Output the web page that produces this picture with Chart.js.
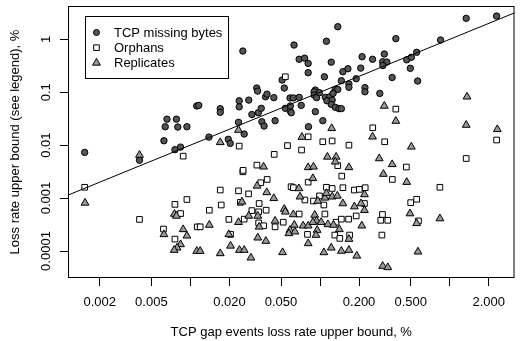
<!DOCTYPE html>
<html>
<head>
<meta charset="utf-8">
<script src="https://cdn.jsdelivr.net/npm/chart.js@4.4.1/dist/chart.umd.min.js"></script>
<style>
  html, body { margin: 0; padding: 0; background: #fff; }
  #wrap { width: 520px; height: 341px; }
</style>
</head>
<body>
<div id="wrap"><canvas id="myChart" width="520" height="341"></canvas></div>
<script>
// [gap events loss rate %, loss rate upper bound %]
const tcpMissingBytes = [
  [0.00153, 0.0073], [0.00405, 0.0052], [0.00625, 0.0121], [0.0076, 0.0082], [0.0084, 0.0092],
  [0.0064, 0.0223], [0.0066, 0.031], [0.0078, 0.031], [0.008, 0.022], [0.0094, 0.0223],
  [0.0112, 0.055], [0.0116, 0.0565], [0.0139, 0.0142], [0.017, 0.0488], [0.017, 0.0417],
  [0.0196, 0.0129], [0.0203, 0.0108], [0.0235, 0.027], [0.0238, 0.069], [0.0238, 0.053],
  [0.026, 0.0162], [0.0254, 0.60], [0.0282, 0.071], [0.0298, 0.038], [0.0325, 0.12],
  [0.033, 0.105], [0.0334, 0.041], [0.0352, 0.0497], [0.0356, 0.0277], [0.037, 0.023],
  [0.045, 0.029], [0.038, 0.082], [0.039, 0.092], [0.044, 0.079], [0.051, 0.17],
  [0.053, 0.12], [0.0587, 0.078], [0.0622, 0.078], [0.069, 0.080], [0.054, 0.0497],
  [0.0587, 0.0447], [0.060, 0.041], [0.059, 0.055], [0.0716, 0.0565], [0.063, 0.78],
  [0.069, 0.42], [0.076, 0.44], [0.081, 0.35], [0.081, 0.234], [0.092, 0.11],
  [0.09, 0.102], [0.09, 0.0885], [0.094, 0.079], [0.099, 0.098], [0.092, 0.043],
  [0.0814, 0.0223], [0.105, 0.029], [0.108, 0.196], [0.112, 0.92], [0.11, 0.08],
  [0.119, 0.082], [0.113, 0.069], [0.124, 0.071], [0.122, 0.059], [0.131, 0.052],
  [0.14, 0.049], [0.146, 0.049], [0.131, 0.113], [0.137, 0.113], [0.126, 0.095],
  [0.122, 0.37], [0.137, 1.73], [0.15, 0.244], [0.164, 0.278], [0.146, 0.165],
  [0.167, 0.143], [0.167, 0.124], [0.19, 0.18], [0.206, 0.286], [0.211, 0.469],
  [0.222, 0.122], [0.222, 0.102], [0.254, 0.42], [0.289, 0.095], [0.304, 0.377],
  [0.313, 0.527], [0.327, 0.372], [0.305, 0.32], [0.36, 0.19], [0.384, 1.03],
  [0.466, 0.41], [0.506, 0.457], [0.556, 0.568], [0.497, 0.283], [0.566, 0.163],
  [0.85, 0.97], [1.34, 2.49], [2.3, 2.75]
];

const orphans = [
  [0.0088, 0.0062], [0.0238, 0.0096], [0.00153, 0.0016], [0.00405, 0.000395], [0.0062, 0.00026],
  [0.0076, 0.00076], [0.0084, 0.00051], [0.0076, 0.000168], [0.0094, 0.00094], [0.0113, 0.000286],
  [0.0119, 0.000286], [0.014, 0.00059], [0.017, 0.00142], [0.0173, 0.00074], [0.0198, 0.000395],
  [0.0204, 0.000206], [0.0235, 0.00137], [0.0243, 0.00083], [0.0281, 0.0012], [0.0298, 0.00058],
  [0.026, 0.0004], [0.0254, 0.00314], [0.0561, 0.0098], [0.0443, 0.0067], [0.0255, 0.00334],
  [0.0326, 0.0042], [0.0349, 0.00195], [0.0391, 0.00225], [0.0339, 0.00079], [0.0384, 0.00059],
  [0.0336, 0.00055], [0.0336, 0.00034], [0.0367, 0.0003], [0.052, 0.00035], [0.045, 0.000286],
  [0.0598, 0.00164], [0.0622, 0.00157], [0.081, 0.0144], [0.105, 0.0116], [0.124, 0.012],
  [0.167, 0.01], [0.072, 0.0081], [0.147, 0.0026], [0.081, 0.002], [0.112, 0.0016],
  [0.124, 0.00152], [0.15, 0.00157], [0.184, 0.00142], [0.201, 0.00146], [0.223, 0.00157],
  [0.22, 0.00079], [0.0764, 0.00092], [0.099, 0.0011], [0.089, 0.00088], [0.107, 0.00074],
  [0.109, 0.0005], [0.069, 0.0005], [0.133, 0.00035], [0.146, 0.0004], [0.166, 0.0004],
  [0.19, 0.00046], [0.294, 0.00038], [0.08, 0.000206], [0.13, 0.0002], [0.142, 0.000173],
  [0.169, 0.0002], [0.3, 0.0002], [0.361, 0.00225], [0.84, 0.0016], [0.5, 0.00082],
  [0.556, 0.00095], [0.303, 0.00049], [0.333, 0.00038], [0.574, 0.00037], [0.315, 0.0116],
  [2.3, 0.0125], [1.34, 0.0056], [0.463, 0.00386], [0.054, 0.196], [0.255, 0.0213],
  [0.384, 0.048], [0.137, 0.0041]
];

const replicates = [
  [0.00405, 0.0065], [0.00154, 0.00081], [0.00753, 0.0005], [0.0078, 0.00046], [0.00625, 0.000206],
  [0.0088, 0.000256], [0.0094, 0.000194], [0.0084, 0.000133], [0.0079, 0.000115], [0.0075, 0.000104],
  [0.0112, 0.0000995], [0.0119, 0.0000995], [0.014, 0.00031], [0.017, 0.0113], [0.0235, 0.0193],
  [0.0367, 0.0039], [0.0327, 0.0017], [0.0388, 0.00128], [0.044, 0.00099], [0.025, 0.00085],
  [0.053, 0.00062], [0.054, 0.00055], [0.0235, 0.00035], [0.0282, 0.00046], [0.0331, 0.00046],
  [0.0339, 0.000286], [0.045, 0.00037], [0.0622, 0.00049], [0.0633, 0.00031], [0.0586, 0.000248],
  [0.0575, 0.000215], [0.064, 0.000231], [0.0198, 0.000206], [0.0331, 0.000178], [0.0382, 0.000154],
  [0.0204, 0.000125], [0.0239, 0.000104], [0.026, 0.000104], [0.017, 0.00009], [0.0293, 0.0000745],
  [0.0514, 0.0000942], [0.0724, 0.0142], [0.254, 0.0144], [0.114, 0.006], [0.133, 0.006],
  [0.131, 0.00485], [0.167, 0.0038], [0.286, 0.0056], [0.081, 0.0038], [0.089, 0.0039],
  [0.088, 0.00236], [0.0687, 0.00152], [0.07, 0.00106], [0.109, 0.00101], [0.112, 0.00123],
  [0.124, 0.00106], [0.136, 0.0011], [0.15, 0.00079], [0.096, 0.00088], [0.22, 0.00117],
  [0.184, 0.00069], [0.207, 0.00079], [0.22, 0.00059], [0.091, 0.00048], [0.094, 0.00037],
  [0.074, 0.0003], [0.081, 0.0003], [0.088, 0.00035], [0.102, 0.00035], [0.115, 0.000318],
  [0.127, 0.00031], [0.141, 0.000256], [0.095, 0.000248], [0.093, 0.0002], [0.081, 0.000139],
  [0.167, 0.000168], [0.21, 0.0003], [0.107, 0.000094], [0.122, 0.000115], [0.146, 0.0001],
  [0.167, 0.000104], [0.192, 0.000081], [0.308, 0.00284], [0.466, 0.002], [0.494, 0.00051],
  [0.556, 0.000333], [0.84, 0.00041], [0.569, 0.0000966], [0.304, 0.0000519], [0.333, 0.000049],
  [0.506, 0.0093], [0.36, 0.00434], [0.313, 0.055], [0.384, 0.0285], [1.36, 0.082],
  [1.34, 0.024], [2.33, 0.0199], [0.123, 0.0208]
];

// y = x reference line
const refLineX = [0.001, 4];
const refLineY = [0.001, 4];

const xTicks = [0.002, 0.005, 0.01, 0.02, 0.05, 0.1, 0.2, 0.5, 1, 2];
const xTickLabels = ["0.002", "0.005", "", "0.020", "0.050", "", "0.200", "0.500", "", "2.000"];
const yTicks = [0.0001, 0.001, 0.01, 0.1, 1];
const yTickLabels = ["0.0001", "0.001", "0.01", "0.1", "1"];

const seriesNames = ["TCP missing bytes", "Orphans", "Replicates"];

const FONT = '"Liberation Sans", Arial, Helvetica, sans-serif';
Chart.defaults.font.family = FONT;
Chart.defaults.font.size = 13;
Chart.defaults.color = "#000";

const toPoints = (arr) => arr.map((p) => ({ x: p[0], y: p[1] }));

function drawMarker(ctx, style, x, y) {
  ctx.beginPath();
  if (style === "circle") {
    ctx.fillStyle = "#555555";
    ctx.arc(x, y, 3, 0, Math.PI * 2);
  } else if (style === "rect") {
    ctx.fillStyle = "#ffffff";
    ctx.rect(x - 2.8, y - 2.8, 5.6, 5.6);
  } else {
    ctx.fillStyle = "#999999";
    ctx.moveTo(x, y - 4.5);
    ctx.lineTo(x + 3.9, y + 2.25);
    ctx.lineTo(x - 3.9, y + 2.25);
    ctx.closePath();
  }
  ctx.fill();
  ctx.stroke();
}

const framePlugin = {
  id: "frame",
  afterDraw(chart) {
    const { ctx, chartArea, scales } = chart;
    ctx.save();
    ctx.strokeStyle = "#000";
    ctx.lineWidth = 1;
    ctx.strokeRect(
      chartArea.left + 0.5,
      chartArea.top + 0.5,
      chartArea.right - chartArea.left - 1,
      chartArea.bottom - chartArea.top - 1
    );

    // y tick labels, rotated like R's default
    ctx.fillStyle = "#000";
    ctx.font = "13px " + FONT;
    ctx.textAlign = "center";
    ctx.textBaseline = "middle";
    yTicks.forEach((v, i) => {
      const py = scales.y.getPixelForValue(v);
      ctx.save();
      ctx.translate(46.5, py);
      ctx.rotate(-Math.PI / 2);
      ctx.fillText(yTickLabels[i], 0, 0);
      ctx.restore();
    });

    // legend box
    const lx = 85, ly = 16, lw = 143, lh = 62;
    ctx.fillStyle = "#fff";
    ctx.fillRect(lx, ly, lw, lh);
    ctx.strokeRect(lx + 0.5, ly + 0.5, lw, lh);
    const styles = ["circle", "rect", "triangle"];
    seriesNames.forEach((name, i) => {
      const yy = 32.5 + i * 15.2;
      ctx.strokeStyle = "#000";
      drawMarker(ctx, styles[i], 96.5, yy);
      ctx.fillStyle = "#000";
      ctx.textAlign = "left";
      ctx.textBaseline = "middle";
      ctx.fillText(name, 114, yy + 0.5);
    });
    ctx.restore();
  },
};

const ctx = document.getElementById("myChart");

new Chart(ctx, {
  type: "scatter",
  data: {
    datasets: [
      {
        type: "line",
        label: "fit",
        data: refLineX.map((x, i) => ({ x: x, y: refLineY[i] })),
        borderColor: "#000",
        borderWidth: 1,
        pointRadius: 0,
        order: 0,
      },
      {
        label: seriesNames[2],
        data: toPoints(replicates),
        pointStyle: "triangle",
        pointRadius: 4.5,
        backgroundColor: "#999999",
        borderColor: "#000",
        borderWidth: 1,
        order: 1,
      },
      {
        label: seriesNames[1],
        data: toPoints(orphans),
        pointStyle: "rect",
        pointRadius: 4,
        backgroundColor: "#ffffff",
        borderColor: "#000",
        borderWidth: 1,
        order: 2,
      },
      {
        label: seriesNames[0],
        data: toPoints(tcpMissingBytes),
        pointStyle: "circle",
        pointRadius: 3.2,
        backgroundColor: "#555555",
        borderColor: "#000",
        borderWidth: 1,
        order: 3,
      },
    ],
  },
  options: {
    responsive: false,
    animation: false,
    events: [],
    layout: { padding: { top: 6, right: 2, left: 0, bottom: 0 } },
    plugins: {
      legend: { display: false },
      tooltip: { enabled: false },
    },
    scales: {
      x: {
        type: "logarithmic",
        position: "bottom",
        min: 0.001138,
        max: 3.16,
        bounds: "data",
        afterBuildTicks: (scale) => {
          scale.ticks = xTicks.map((v) => ({ value: v }));
        },
        afterFit: (scale) => {
          scale.height = 63;
        },
        ticks: {
          autoSkip: false,
          maxRotation: 0,
          minRotation: 0,
          padding: 9,
          callback: (value, index) => xTickLabels[index],
        },
        grid: { drawOnChartArea: false, drawTicks: true, tickLength: 8, color: "#000", lineWidth: 1 },
        border: { display: false },
        title: {
          display: true,
          text: "TCP gap events loss rate upper bound, %",
          padding: { top: 0, bottom: 1 },
        },
      },
      y: {
        type: "logarithmic",
        position: "left",
        min: 0.0000309,
        max: 4.26,
        bounds: "data",
        afterBuildTicks: (scale) => {
          scale.ticks = yTicks.map((v) => ({ value: v }));
        },
        afterFit: (scale) => {
          scale.width = 68;
        },
        ticks: { display: false },
        grid: { drawOnChartArea: false, drawTicks: true, tickLength: 8, color: "#000", lineWidth: 1 },
        border: { display: false },
        title: {
          display: true,
          text: "Loss rate upper bound (see legend), %",
          padding: { top: 8, bottom: 0 },
        },
      },
    },
  },
  plugins: [framePlugin],
});
</script>
</body>
</html>
